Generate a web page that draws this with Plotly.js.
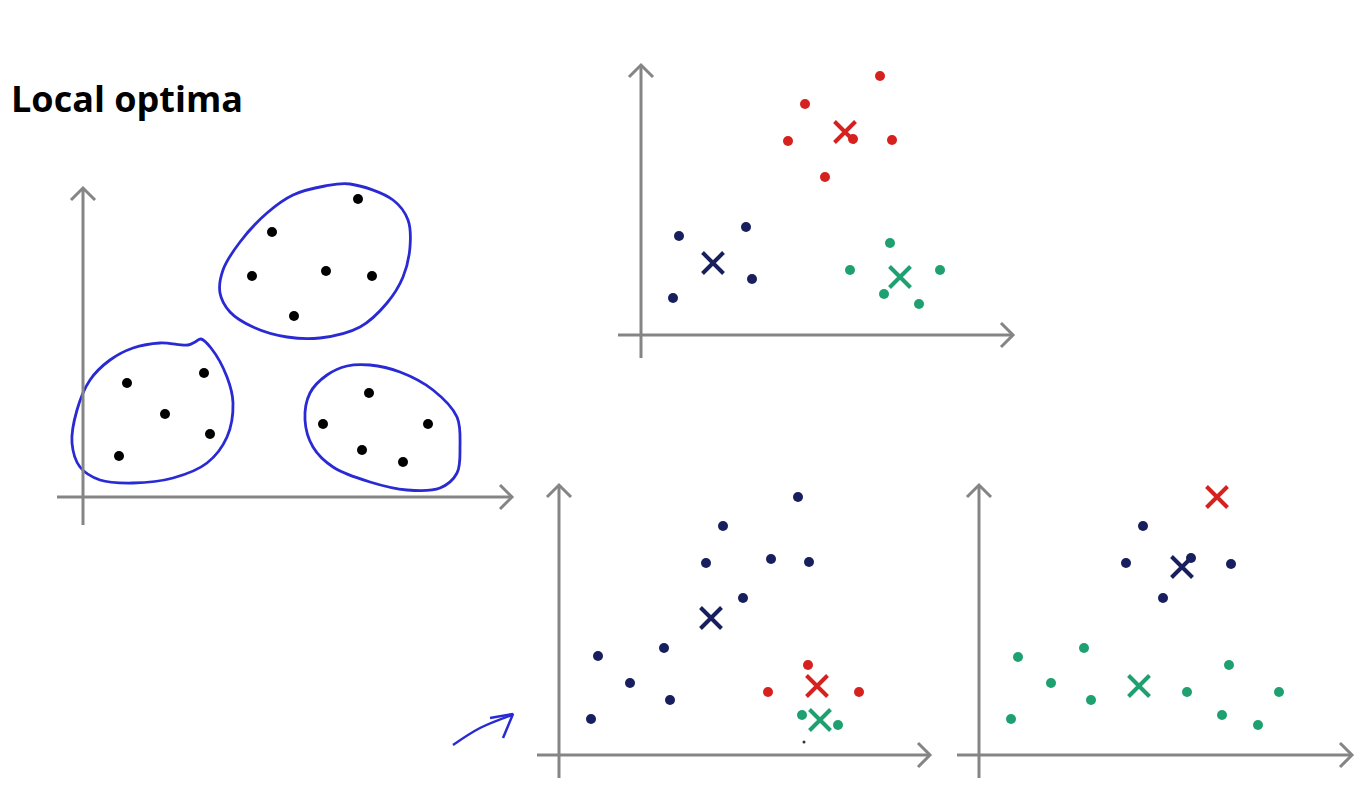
<!DOCTYPE html>
<html><head><meta charset="utf-8">
<script src="https://cdn.plot.ly/plotly-3.0.1.min.js"></script>
<style>html,body{margin:0;padding:0;background:#fff}#chart{width:1361px;height:793px}</style>
</head><body><div id="chart"></div>
<script>
// ---------- DATA (offsets from each panel's axis origin, x right, y up) ----------
// Panel 1: unlabelled data with hand-drawn cluster loops
const p1_x = [275,189,169,243,289,211, 44,121,82,127,36, 286,240,345,279,320];
const p1_y = [298,265,221,226,221,181, 114,124,83,63,41, 104,73,73,47,35];
const loopA_x = [242,267,310,325,327,320,304,277,237,204,170,147,137,140,157,184,210,242];
const loopA_y = [311,313,297,277,250,220,194,170,159,160,170,185,204,227,255,284,302,311];
const loopB_x = [77,105,112,118,128,144,150,144,124,90,50,17,-3,-11,-6,7,27,50,77];
const loopB_y = [154,152,155,158,149,120,94,60,34,19,14,17,30,54,87,117,137,149,154];
const loopC_x = [287,317,350,374,377,374,357,324,287,250,230,222,227,244,264,287];
const loopC_y = [132,125,107,80,50,24,9,7,15,30,50,77,104,122,131,132];

// Panel 2: good clustering
const p2_red_x = [239,164,147,251,184,212], p2_red_y = [259,231,194,195,158,196];
const p2_blue_x = [38,105,111,32], p2_blue_y = [99,108,56,37];
const p2_green_x = [249,209,299,243,278], p2_green_y = [92,65,65,41,31];
const p2_cent_x = [204,72,259], p2_cent_y = [203,72,58];

// Panel 3: local optimum A
const p3_blue_x = [239,164,147,212,250,184,105,39,71,111,32];
const p3_blue_y = [258,229,192,196,193,157,107,99,72,55,36];
const p3_red_x = [249,209,300], p3_red_y = [90,63,63];
const p3_green_x = [243,279], p3_green_y = [40,30];
const p3_cent_x = [152,258,261], p3_cent_y = [137,69,35];
const p3_arrow_x = [-106,-79,-47], p3_arrow_y = [10,27,40];
const p3_head_x = [-69,-46,-56], p3_head_y = [37,41,17];
const p3_speck_x = [245], p3_speck_y = [13];

// Panel 4: local optimum B
const p4_blue_x = [164,147,212,252,184], p4_blue_y = [229,192,197,191,157];
const p4_green_x = [39,105,72,112,32,250,208,300,243,279];
const p4_green_y = [98,107,72,55,36,90,63,63,40,30];
const p4_cent_x = [238,203,160], p4_cent_y = [258,188,69];

// ---------- STYLE ----------
const RED='#d6221e', NAVY='#171f5e', GREEN='#1fa070', LOOP='#2a2ad4', AXIS='#858585';
const W=1361, H=793;

// panel geometry in page pixels: origin and box [left,top,right,bottom]
const panels = [
  {o:[83,497],  box:[40,160,525,540], v:[-28,309], h:[-26,429]},
  {o:[641,335], box:[600,50,1030,370], v:[-23,270], h:[-23,372]},
  {o:[559,755], box:[440,470,940,790], v:[-23,270], h:[-22,371]},
  {o:[979,755], box:[945,470,1360,790], v:[-23,270], h:[-22,373]}
];

const layout = {width:W,height:H,margin:{l:0,r:0,t:0,b:0},showlegend:false,
  paper_bgcolor:'#fff',plot_bgcolor:'rgba(0,0,0,0)',shapes:[],
  annotations:[{text:'<b>Local optima</b>',xref:'paper',yref:'paper',x:9/W,y:1-98/H,
    xanchor:'left',yanchor:'middle',showarrow:false,font:{family:'Open Sans',size:36,color:'#000'}}]};

panels.forEach((p,i)=>{
  const n=i===0?'':String(i+1);
  const [l,t,r,b]=p.box;
  layout['xaxis'+n]={domain:[l/W,r/W],range:[l-p.o[0],r-p.o[0]],visible:false,fixedrange:true,anchor:'y'+n};
  layout['yaxis'+n]={domain:[1-b/H,1-t/H],range:[p.o[1]-b,p.o[1]-t],visible:false,fixedrange:true,anchor:'x'+n};
  const xr='x'+n, yr='y'+n, ln={color:AXIS,width:3};
  layout.shapes.push({type:'line',xref:xr,yref:yr,x0:0,x1:0,y0:p.v[0],y1:p.v[1],line:ln});
  layout.shapes.push({type:'line',xref:xr,yref:yr,x0:p.h[0],x1:p.h[1],y0:0,y1:0,line:ln});
  const a=12;
  layout.shapes.push({type:'path',xref:xr,yref:yr,path:`M ${-a} ${p.v[1]-a} L 0 ${p.v[1]} L ${a} ${p.v[1]-a}`,line:ln});
  layout.shapes.push({type:'path',xref:xr,yref:yr,path:`M ${p.h[1]-a} ${a} L ${p.h[1]} 0 L ${p.h[1]-a} ${-a}`,line:ln});
});

function dots(x,y,c,ax,sz){return {type:'scatter',mode:'markers',x:x,y:y,xaxis:'x'+ax,yaxis:'y'+ax,
  marker:{color:c,size:sz||10,line:{width:0}},hoverinfo:'skip'};}
function crosses(x,y,colors,ax){return {type:'scatter',mode:'markers',x:x,y:y,xaxis:'x'+ax,yaxis:'y'+ax,
  marker:{symbol:'x-thin',size:21,color:colors,line:{color:colors,width:4}},hoverinfo:'skip'};}
function stroke(x,y,ax,w){return {type:'scatter',mode:'lines',x:x,y:y,xaxis:'x'+ax,yaxis:'y'+ax,
  line:{color:LOOP,width:w||2.8,shape:'spline',smoothing:1},hoverinfo:'skip'};}

const data = [
  stroke(loopA_x,loopA_y,''),stroke(loopB_x,loopB_y,''),stroke(loopC_x,loopC_y,''),
  dots(p1_x,p1_y,'#000','',10),
  dots(p2_red_x,p2_red_y,RED,'2'),dots(p2_blue_x,p2_blue_y,NAVY,'2'),dots(p2_green_x,p2_green_y,GREEN,'2'),
  crosses(p2_cent_x,p2_cent_y,[RED,NAVY,GREEN],'2'),
  dots(p3_blue_x,p3_blue_y,NAVY,'3'),dots(p3_red_x,p3_red_y,RED,'3'),dots(p3_green_x,p3_green_y,GREEN,'3'),
  dots(p3_speck_x,p3_speck_y,'#333','3',3),
  crosses(p3_cent_x,p3_cent_y,[NAVY,RED,GREEN],'3'),
  stroke(p3_arrow_x,p3_arrow_y,'3',2.5),
  {type:'scatter',mode:'lines',x:p3_head_x,y:p3_head_y,xaxis:'x3',yaxis:'y3',line:{color:LOOP,width:2.5},hoverinfo:'skip'},
  dots(p4_blue_x,p4_blue_y,NAVY,'4'),dots(p4_green_x,p4_green_y,GREEN,'4'),
  crosses(p4_cent_x,p4_cent_y,[RED,NAVY,GREEN],'4')
];

Plotly.newPlot('chart',data,layout,{displayModeBar:false,staticPlot:true});
</script></body></html>
